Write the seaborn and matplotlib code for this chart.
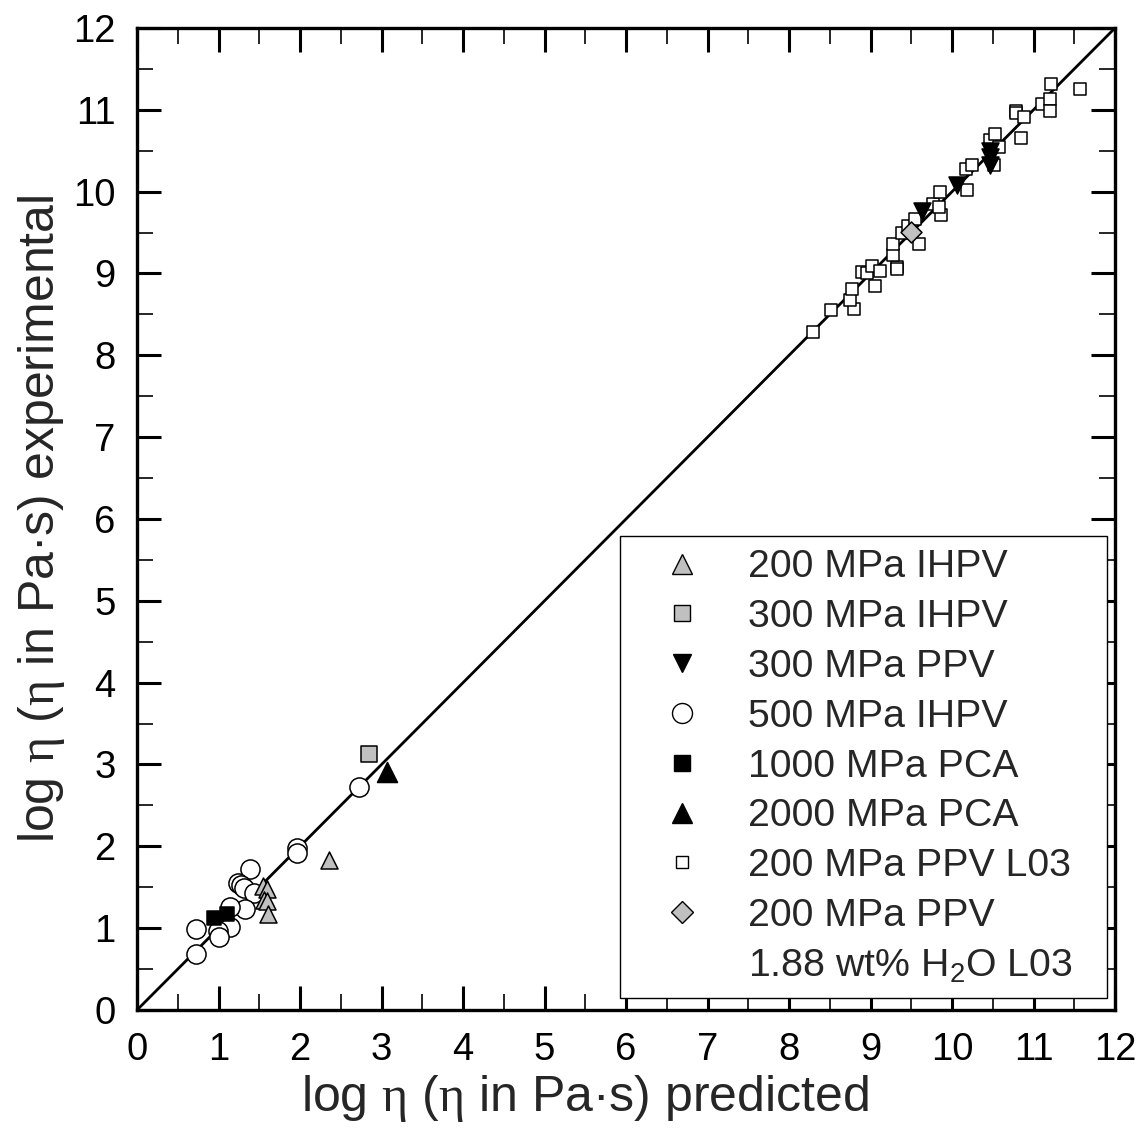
import matplotlib
matplotlib.use('Agg')
import matplotlib.pyplot as plt
from matplotlib.lines import Line2D
from matplotlib.ticker import MultipleLocator
import seaborn as sns

# values: log viscosity, predicted (x) vs experimental (y)
ihpv200_pred = [1.55, 1.60, 1.56, 1.60, 1.61, 2.35]
ihpv200_exp = [1.51, 1.48, 1.35, 1.33, 1.17, 1.83]

ihpv300_pred = [2.84]
ihpv300_exp = [3.13]

ppv300_pred = [9.63, 10.06, 10.47, 10.47, 10.47]
ppv300_exp = [9.76, 10.08, 10.50, 10.42, 10.33]

ihpv500_pred = [1.96, 1.96, 1.38, 1.24, 1.28, 1.31, 1.44, 1.32, 1.14, 1.14, 0.99, 1.00, 0.72, 0.72, 2.72]
ihpv500_exp = [1.98, 1.92, 1.72, 1.55, 1.53, 1.49, 1.43, 1.23, 1.26, 1.02, 0.97, 0.89, 0.99, 0.68, 2.72]

pca1000_pred = [0.94, 1.10]
pca1000_exp = [1.13, 1.17]

pca2000_pred = [3.07]
pca2000_exp = [2.91]

l03_pred = [8.29, 8.52, 8.80, 8.75, 8.77, 9.05, 8.89, 8.96, 9.02, 9.11, 9.32, 9.32, 9.28, 9.28,
            9.38, 9.46, 9.54, 9.59, 9.77, 9.85, 9.87, 9.84, 10.18, 10.17, 10.25, 10.51, 10.46,
            10.53, 10.57, 10.85, 10.79, 10.79, 10.88, 11.10, 11.20, 11.20, 11.22, 11.57]
l03_exp = [8.29, 8.55, 8.56, 8.68, 8.81, 8.85, 9.02, 9.00, 9.09, 9.03, 9.08, 9.05, 9.23, 9.36,
           9.49, 9.58, 9.67, 9.36, 9.85, 9.99, 9.71, 9.81, 10.02, 10.28, 10.32, 10.32, 10.63,
           10.71, 10.55, 10.65, 10.99, 10.96, 10.91, 11.07, 11.13, 10.98, 11.32, 11.26]

wet_pred = [9.50]
wet_exp = [9.51]

one_to_one = [0, 12]

legend_labels = ['200 MPa IHPV', '300 MPa IHPV', '300 MPa PPV', '500 MPa IHPV',
                 '1000 MPa PCA', '2000 MPa PCA', '200 MPa PPV L03', '200 MPa PPV',
                 '1.88 wt% H$_2$O L03']

gray = '#c0c0c0'

sns.set_style('ticks')
plt.rcParams['font.family'] = ['Liberation Sans', 'DejaVu Sans']
plt.rcParams['mathtext.fontset'] = 'custom'
plt.rcParams['mathtext.rm'] = 'Liberation Serif'
plt.rcParams['mathtext.default'] = 'regular'

fig = plt.figure(figsize=(11.42, 11.42), dpi=100)
ax = fig.add_axes([0.12, 0.1156, 0.8564, 0.8599])

# 1:1 line
sns.lineplot(x=one_to_one, y=one_to_one, color='black', linewidth=2.0, ax=ax, zorder=1)

# data groups (draw order matters for overlaps)
sns.scatterplot(x=l03_pred, y=l03_exp, marker='s', s=81, color='white',
                edgecolor='black', linewidth=1.1, ax=ax, zorder=2)
sns.scatterplot(x=ihpv500_pred, y=ihpv500_exp, marker='o', s=190, color='white',
                edgecolor='black', linewidth=1.1, ax=ax, zorder=3)
sns.scatterplot(x=pca1000_pred, y=pca1000_exp, marker='s', s=100, color='black',
                edgecolor='black', linewidth=1.1, ax=ax, zorder=4)
sns.scatterplot(x=ihpv200_pred, y=ihpv200_exp, marker='^', s=150, color=gray,
                edgecolor='black', linewidth=1.1, ax=ax, zorder=5)
sns.scatterplot(x=ihpv300_pred, y=ihpv300_exp, marker='s', s=132, color=gray,
                edgecolor='black', linewidth=1.1, ax=ax, zorder=5)
sns.scatterplot(x=pca2000_pred, y=pca2000_exp, marker='^', s=207, color='black',
                edgecolor='black', linewidth=1.1, ax=ax, zorder=5)
sns.scatterplot(x=ppv300_pred, y=ppv300_exp, marker='v', s=150, color='black',
                edgecolor='black', linewidth=1.1, ax=ax, zorder=6)
sns.scatterplot(x=wet_pred, y=wet_exp, marker='D', s=114, color=gray,
                edgecolor='black', linewidth=1.1, ax=ax, zorder=7)

ax.set_xlim(0, 12)
ax.set_ylim(0, 12)
ax.xaxis.set_major_locator(MultipleLocator(1))
ax.yaxis.set_major_locator(MultipleLocator(1))
ax.xaxis.set_minor_locator(MultipleLocator(0.5))
ax.yaxis.set_minor_locator(MultipleLocator(0.5))
ax.tick_params(which='major', direction='in', length=17, width=2.2, top=True, right=True,
               labelsize=27.5, pad=15.5, colors='black')
ax.tick_params(which='minor', direction='in', length=11.5, width=1.4, top=True, right=True)
for sp in ax.spines.values():
    sp.set_linewidth(2.4)
    sp.set_color('black')

ax.set_xlabel(r'log $\mathrm{\eta}$ ($\mathrm{\eta}$ in Pa·s) predicted', fontsize=36)
ax.set_ylabel(r'log $\mathrm{\eta}$ ($\mathrm{\eta}$ in Pa·s) experimental', fontsize=36)
ax.xaxis.label.set_x(0.458)

handles = [
    Line2D([], [], ls='none', marker='^', ms=14, mfc=gray, mec='black', mew=1),
    Line2D([], [], ls='none', marker='s', ms=12, mfc=gray, mec='black', mew=1),
    Line2D([], [], ls='none', marker='v', ms=13, mfc='black', mec='black', mew=1),
    Line2D([], [], ls='none', marker='o', ms=14.4, mfc='white', mec='black', mew=1),
    Line2D([], [], ls='none', marker='s', ms=11.5, mfc='black', mec='black', mew=1),
    Line2D([], [], ls='none', marker='^', ms=14, mfc='black', mec='black', mew=1),
    Line2D([], [], ls='none', marker='s', ms=8.6, mfc='white', mec='black', mew=1),
    Line2D([], [], ls='none', marker='D', ms=11.7, mfc=gray, mec='black', mew=1),
    Line2D([], [], ls='none', marker=None),
]
leg = ax.legend(handles, legend_labels, loc='lower left', bbox_to_anchor=(0.494, 0.012, 0.498, 0.47),
                mode='expand', fontsize=28.3, frameon=True, fancybox=False, edgecolor='black',
                framealpha=1, borderpad=0.34, labelspacing=0.35, handlelength=2.47,
                handletextpad=0.45, borderaxespad=0)
leg.get_frame().set_linewidth(1.0)

fig.savefig('out.png', dpi=100)
